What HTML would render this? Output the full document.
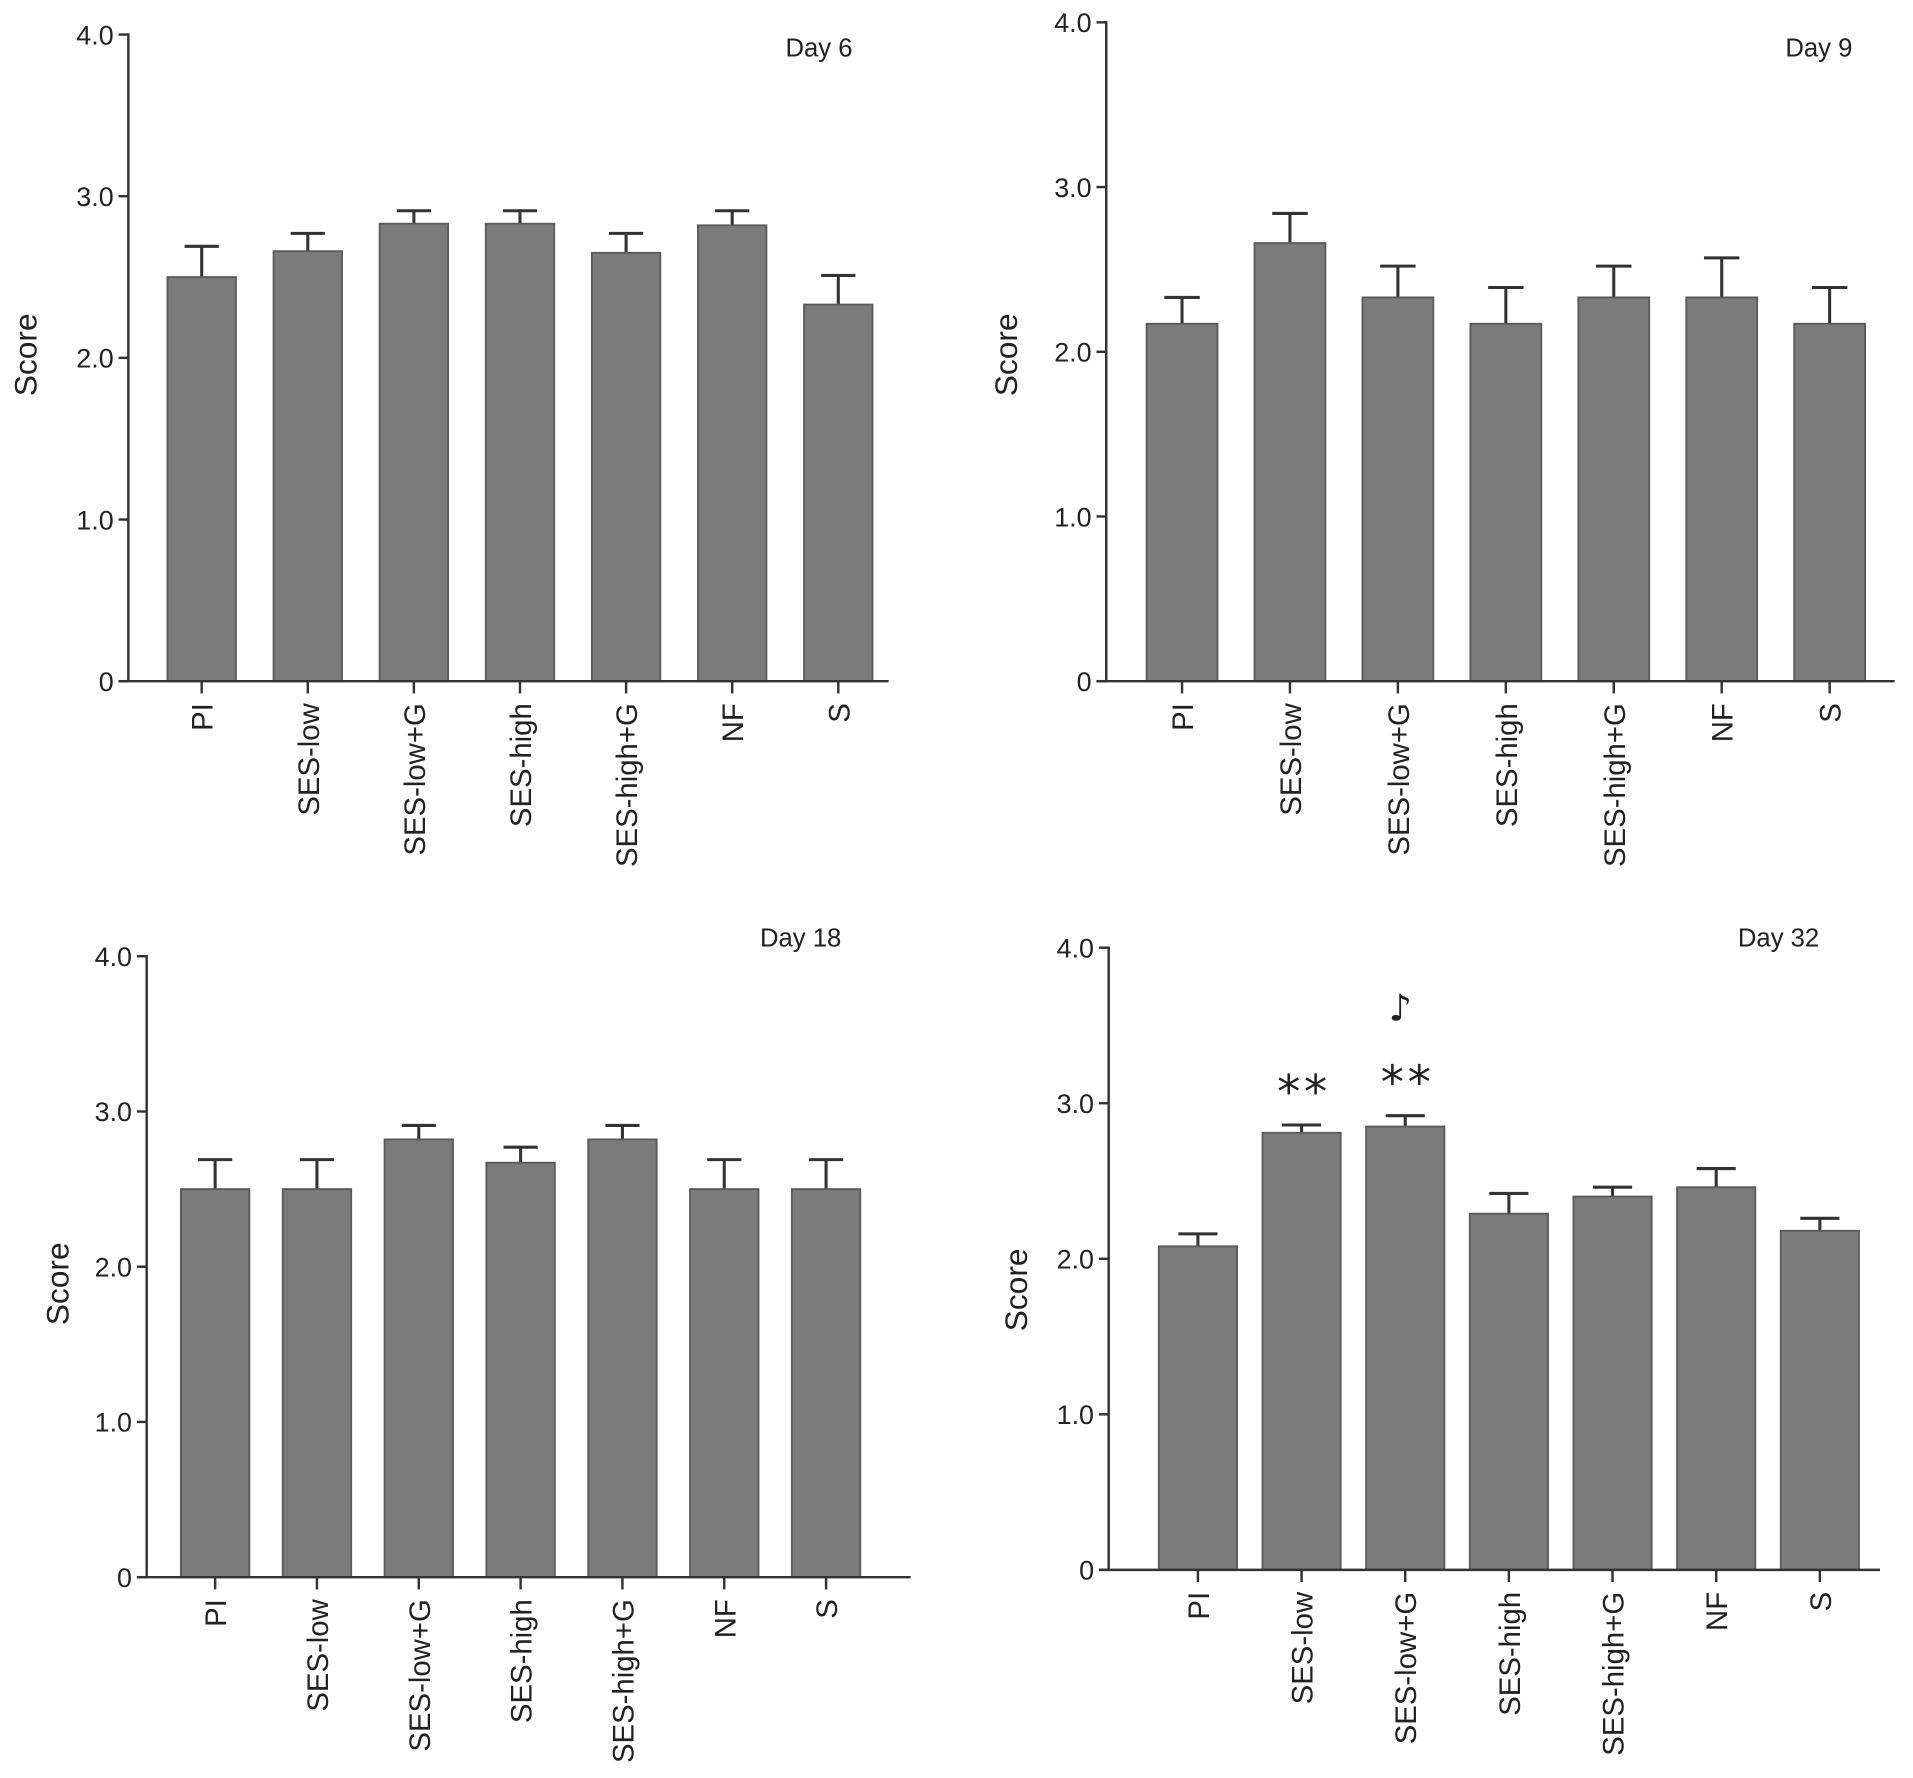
<!DOCTYPE html>
<html><head><meta charset="utf-8">
<style>
html,body{margin:0;padding:0;background:#fff;}
svg{display:block;}
text{font-family:"Liberation Sans",Arial,sans-serif;fill:#222;}
</style></head>
<body>
<svg id="fig" xmlns="http://www.w3.org/2000/svg" width="1913" height="1778" viewBox="0 0 1565 1454"></svg>
<script>
const categories = ["PI","SES-low","SES-low+G","SES-high","SES-high+G","NF","S"];
const yTickValues = [0,1,2,3,4];
const yTickLabels = ["0","1.0","2.0","3.0","4.0"];
const panelTitles = ["Day 6","Day 9","Day 18","Day 32"];
const day6Means = [2.50,2.66,2.83,2.83,2.65,2.82,2.33];
const day6Errors = [0.19,0.11,0.08,0.08,0.12,0.09,0.18];
const day9Means = [2.17,2.66,2.33,2.17,2.33,2.33,2.17];
const day9Errors = [0.16,0.18,0.19,0.22,0.19,0.24,0.22];
const day18Means = [2.50,2.50,2.82,2.67,2.82,2.50,2.50];
const day18Errors = [0.19,0.19,0.09,0.10,0.09,0.19,0.19];
const day32Means = [2.08,2.81,2.85,2.29,2.40,2.46,2.18];
const day32Errors = [0.08,0.05,0.07,0.13,0.06,0.12,0.08];
const day32Marks = ["","**","**","","","",""];
const day32Extra = ["","","\u266A","","","",""];

const NS="http://www.w3.org/2000/svg";
const svg=document.getElementById('fig');
function mk(tag,attrs,parent){const e=document.createElementNS(NS,tag);for(const k in attrs)e.setAttribute(k,attrs[k]);(parent||svg).appendChild(e);return e;}

const layouts=[
 {ax:105,y0:557,y4:28,first:165,step:86.8,bw:56,xend:727,tx:670,ty:46,sx:30,sy:290},
 {ax:905,y0:557,y4:18,first:967,step:88.3,bw:58,xend:1550,tx:1488,ty:46,sx:832,sy:290},
 {ax:120,y0:1290,y4:782,first:176,step:83.3,bw:56,xend:745,tx:655,ty:774,sx:56,sy:1050},
 {ax:907,y0:1284,y4:775,first:980,step:84.8,bw:64,xend:1538,tx:1455,ty:774,sx:840,sy:1055}
];
const allMeans=[day6Means,day9Means,day18Means,day32Means];
const allErrors=[day6Errors,day9Errors,day18Errors,day32Errors];
const names=["day6","day9","day18","day32"];

layouts.forEach((L,p)=>{
  const g=mk('g',{});
  
  
  const yS=v=>L.y0-(v/4)*(L.y0-L.y4);
  const xS=i=>L.first+i*L.step;
  const means=allMeans[p],errs=allErrors[p];
  means.forEach((m,i)=>{
    const top=yS(m+errs[i]);
    const eb=mk('g',{},g);
    
    
    mk('line',{x1:xS(i),x2:xS(i),y1:yS(m),y2:top,stroke:'#333','stroke-width':2.5},eb);
    mk('line',{x1:xS(i)-L.bw*0.25,x2:xS(i)+L.bw*0.25,y1:top,y2:top,stroke:'#333','stroke-width':2.5},eb);
    const r=mk('rect',{x:xS(i)-L.bw/2,y:yS(m),width:L.bw,height:L.y0-yS(m),fill:'#7b7b7b',stroke:'#5a5a5a','stroke-width':1.5},g);
    
    
    mk('line',{x1:xS(i),x2:xS(i),y1:L.y0,y2:L.y0+10,stroke:'#333','stroke-width':2},g);
    const t=mk('text',{x:0,y:0,'font-size':24,'text-anchor':'end',transform:`translate(${xS(i)+9},${L.y0+18}) rotate(-90)`},g);
    t.textContent=categories[i];
    
    
  });
  mk('line',{x1:L.ax,x2:L.ax,y1:L.y4-1,y2:L.y0,stroke:'#333','stroke-width':2},g);
  mk('line',{x1:L.ax-8,x2:L.xend,y1:L.y0,y2:L.y0,stroke:'#333','stroke-width':2},g);
  yTickValues.forEach((v,k)=>{
    mk('line',{x1:L.ax-8,x2:L.ax,y1:yS(v),y2:yS(v),stroke:'#333','stroke-width':2},g);
    const t=mk('text',{x:L.ax-12,y:yS(v)+8,'font-size':22,'text-anchor':'end'},g);
    t.textContent=yTickLabels[k];
    
    
  });
  const st=mk('text',{x:0,y:0,'font-size':26,'text-anchor':'middle',transform:`translate(${L.sx},${L.sy}) rotate(-90)`},g);
  st.textContent='Score';
  
  
  const tt=mk('text',{x:L.tx,y:L.ty,'font-size':21,'text-anchor':'middle'},g);
  tt.textContent=panelTitles[p];
  
  
  if(p===3){
    day32Marks.forEach((s,i)=>{
      if(!s)return;
      const top=yS(means[i]+errs[i]);
      const a=mk('text',{x:xS(i)+2,y:top-14,'font-size':38,'text-anchor':'middle','letter-spacing':3,style:'font-family:"DejaVu Sans",sans-serif'},g);
      a.textContent=s;
      
      
    });
    day32Extra.forEach((s,i)=>{
      if(!s)return;
      const top=yS(means[i]+errs[i]);
      const a=mk('text',{x:xS(i)-4,y:top-78,'font-size':30,'font-weight':'bold','text-anchor':'middle',style:'font-family:"DejaVu Sans",sans-serif'},g);
      a.textContent=s;
      
      
    });
  }
});
</script>
</body></html>
